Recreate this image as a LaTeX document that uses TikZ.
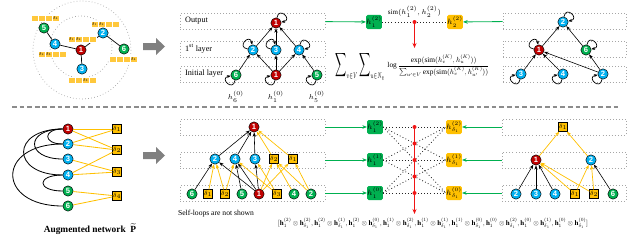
\RequirePackage{fix-cm}
\documentclass[tikz,border=0pt]{standalone}
\usepackage{amsmath,amssymb,graphicx}
\usepackage{fontspec}
\setmainfont{Liberation Serif}
\newfontfamily\numfont{Liberation Sans}
\usetikzlibrary{arrows.meta, positioning, calc, fit, backgrounds}

\definecolor{nodered}{RGB}{192,0,0}
\definecolor{nodeblue}{RGB}{0,176,240}
\definecolor{nodegreen}{RGB}{0,176,80}
\definecolor{featorange}{RGB}{255,192,0}
\definecolor{barorange}{RGB}{255,200,60}
\definecolor{linkgreen}{RGB}{0,176,80}
\definecolor{simred}{RGB}{240,20,20}

\newcommand{\fsz}[1]{\fontsize{#1}{#1}\selectfont}
\newcommand{\hpair}[2]{\mathbf{h}_1^{(#1)}\otimes\mathbf{h}_{\delta_1}^{(#2)}}
% self-loop leaving a node at angle #2, coming back at angle #3
\newcommand{\selfloop}[3]{\draw[sloop] (#1.#2) .. controls +(#2:3.6mm) and +(#3:3.6mm) .. (#1.#3);}

\tikzset{
  vtx/.style={circle, draw=black, line width=0.4pt, minimum size=0.31cm, inner sep=0pt,
    text=white, font=\numfont\bfseries\fsz{6.5}},
  v1/.style={vtx, fill=nodered},
  v2/.style={vtx, fill=nodeblue},
  v3/.style={vtx, fill=nodegreen},
  fbox/.style={rectangle, draw=black, line width=0.4pt, fill=featorange, minimum size=0.26cm,
    inner sep=0pt, font=\fsz{5}},
  layerbox/.style={draw=black!35, dotted, line width=0.6pt, inner sep=0pt},
  rowlabel/.style={anchor=west, font=\fsz{7}},
  hlab/.style={font=\fsz{6}},
  ring/.style={draw=black!35, dotted, line width=0.6pt},
  gedge/.style={line width=0.6pt},
  tarr/.style={-{Stealth[length=1.3mm,width=1mm]}, line width=0.5pt},
  farr/.style={tarr, draw=featorange, line width=0.6pt},
  fline/.style={draw=featorange, line width=0.7pt},
  arcline/.style={line width=0.7pt},
  sloop/.style={-{Stealth[length=1.1mm,width=0.9mm]}, line width=0.6pt},
  emb/.style={rounded corners=1.2pt, minimum width=0.4cm, minimum height=0.42cm, inner sep=0pt,
    font=\fsz{6.5}},
  gemb/.style={emb, fill=nodegreen},
  oemb/.style={emb, fill=featorange},
  garr/.style={-{Stealth[length=1.4mm,width=1.1mm]}, draw=linkgreen, line width=0.7pt},
  simline/.style={dotted, line width=0.7pt, draw=black!85},
  redarr/.style={-{Stealth[length=1.5mm,width=1.2mm]}, draw=simred, line width=1.1pt},
  barcell/.style={fill=barorange, draw=white, line width=0.4pt},
  barlab/.style={font=\fsz{3.5}, inner sep=0pt},
  bigarrow/.style={fill=black!50},
  sepline/.style={draw=black!45, dashed, dash pattern=on 4pt off 2.5pt, line width=1.1pt}
}

% one feature bar of four cells; labelled cells given as cell/index list
\newcommand{\featbar}[3]{%
  \foreach \k in {0,...,3}
    \draw[barcell] ({#1+\k*7},#2) rectangle ++(7,6);
  \foreach \k/\d in {#3}
    \node[barlab] at ({#1+\k*7-3.5},{#2+3}) {$\delta_{\d}$};
}

\begin{document}
\begin{tikzpicture}[x=0.03cm, y=-0.03cm]
  \useasboundingbox (0,0) rectangle (640,251);

  % --- top left: graph with its feature bars ---
  \featbar{31}{15}{4/4}
  \featbar{91}{21}{1/1, 2/2}
  \featbar{68}{36}{1/1, 2/2}
  \featbar{38}{51}{1/2, 2/3}
  \featbar{109}{56}{4/4}
  \featbar{68}{77}{3/3}
  \node[v1] (a1) at (81,50) {1};
  \node[v2] (a2) at (103,33) {2};
  \node[v2] (a3) at (82,69) {3};
  \node[v2] (a4) at (55,44) {4};
  \node[v3] (a5) at (44,28) {5};
  \node[v3] (a6) at (124,49) {6};
  \begin{scope}[on background layer]
    \draw[ring] (82,50) circle (49);
    \draw[ring] (81,47) circle (31);
    \foreach \s/\t in {a1/a2, a1/a3, a1/a4, a4/a5, a2/a6}
      \draw[gedge] (\s) -- (\t);
  \end{scope}

  % --- grey arrows ---
  \fill[bigarrow] (143,43) -- (156,43) -- (156,38) -- (165,46.5) -- (156,55) -- (156,50) -- (143,50) -- cycle;
  \fill[bigarrow] (143,152) -- (156,152) -- (156,147) -- (165,155.5) -- (156,164) -- (156,159) -- (143,159) -- cycle;

  % --- top middle: computation tree of node 1 ---
  \node[layerbox, fit={(180,13) (325,29)}] (tOut) {};
  \node[layerbox, fit={(180,41) (325,57)}] (tMid) {};
  \node[layerbox, fit={(180,66) (325,82)}] (tIni) {};
  \node[rowlabel] (tl1) at (181,21) {Output};
  \node[rowlabel] (tl2) at (181,49) {1\textsuperscript{st} layer};
  \node[rowlabel] (tl3) at (181,74) {Initial layer};

  \node[v1] (t1) at (276,23) {1};
  \node[v2] (t2) at (253,50) {2};
  \node[v2] (t3) at (276,50) {3};
  \node[v2] (t4) at (299,50) {4};
  \node[v3] (t6) at (236,75) {6};
  \node[v1] (t1b) at (276,75) {1};
  \node[v3] (t5) at (317,75) {5};
  \foreach \s/\t in {t2/t1, t3/t1, t4/t1, t6/t2, t1b/t2, t1b/t3, t1b/t4, t5/t4}
    \draw[tarr] (\s) -- (\t);
  \foreach \n in {t1, t4} {\selfloop{\n}{80}{10}}
  \foreach \n in {t2, t3} {\selfloop{\n}{170}{100}}
  \foreach \n in {t6, t1b, t5} {\selfloop{\n}{260}{190}}
  \node[hlab] (h6) at (236,97) {$h_6^{(0)}$};
  \node[hlab] (h1) at (276,97) {$h_1^{(0)}$};
  \node[hlab] (h5) at (317,97) {$h_5^{(0)}$};

  % --- top right: computation tree of node 2 ---
  \node[layerbox, fit={(503,13) (626,29)}] (rOut) {};
  \node[layerbox, fit={(503,41) (626,57)}] (rMid) {};
  \node[layerbox, fit={(503,66) (626,82)}] (rIni) {};
  \node[v2] (u2) at (563,22) {2};
  \node[v1] (u1) at (539,50) {1};
  \node[v3] (u6) at (586,50) {6};
  \node[v2] (u3b) at (521,74) {3};
  \node[v2] (u4b) at (563,74) {4};
  \node[v2] (u2b) at (603,74) {2};
  \foreach \s/\t in {u1/u2, u6/u2, u3b/u1, u4b/u1, u2b/u1, u2b/u6}
    \draw[tarr] (\s) -- (\t);
  \foreach \n in {u2, u6} {\selfloop{\n}{80}{10}}
  \selfloop{u1}{170}{100}
  \foreach \n in {u3b, u4b, u2b} {\selfloop{\n}{260}{190}}

  % --- top: similarity and objective ---
  \node[gemb] (gtop) at (374,22) {$h_1^{(2)}$};
  \node[oemb] (otop) at (455,22) {$h_2^{(2)}$};
  \draw[garr] (tOut) -- (gtop);
  \draw[garr] (rOut) -- (otop);
  \draw[simline] (gtop) -- (otop);
  \coordinate (simt) at ($(gtop)!0.5!(otop)$);
  \coordinate (simb) at (414.5,48);
  \draw[redarr] (simt) -- (simb);
  \fill[simred] (simt) circle (2);
  \node[font=\fsz{6}, above=0.3pt of simt] (simlab) {$\mathrm{sim}(h_1^{(2)},h_2^{(2)})$};
  \node[inner sep=0pt, anchor=west] (lsum) at (335,66) {\resizebox{1.5cm}{0.52cm}{$\displaystyle\sum\nolimits_{\scriptscriptstyle v\in V}\sum\nolimits_{\scriptscriptstyle u\in N_v}$}};
  \node[inner sep=0pt, right=1.5pt of lsum] (lfrac) {\resizebox{3.05cm}{!}{$\log\dfrac{\exp(\mathrm{sim}(h_v^{(K)},h_u^{(K)}))}{\sum_{u'\in V}\exp(\mathrm{sim}(h_v^{(K)},h_{u'}^{(K)}))}$}};

  % --- separator ---
  \draw[sepline] (12,107) -- (620,107);

  % --- bottom left: augmented network ---
  \foreach \i/\y/\c in {1/129/v1, 2/144/v2, 3/159/v2, 4/175/v2, 5/191/v3, 6/206/v3}
    \node[\c] (b\i) at (68,\y) {\i};
  \foreach \i/\y in {1/129, 2/150, 3/172, 4/196}
    \node[fbox] (c\i) at (117,\y) {$\delta_{\i}$};
  \foreach \s/\t/\l in {b1/b2/3.4, b1/b3/3.2, b1/b4/2.9, b4/b5/4.2, b2/b6/2.75}
    \draw[arcline] (\s) to[out=180, in=180, looseness=\l] (\t);
  \foreach \s/\t in {b1/c1, b1/c2, b2/c1, b2/c2, b3/c3, b4/c2, b4/c3, b5/c4, b6/c4}
    \draw[fline] (\s) -- (\t);
  \node[font=\bfseries\fsz{8}] (augl) at (90,229) {Augmented network~~$\widetilde{\mathbf{P}}$};

  % --- bottom middle: tree of node 1 on the augmented network ---
  \node[layerbox, fit={(180,119) (325,135)}] (mOut) {};
  \node[layerbox, fit={(180,152) (325,168)}] (mMid) {};
  \node[layerbox, fit={(180,185) (325,201)}] (mIni) {};
  \node[v1] (m1) at (254,127) {1};
  \node[v2] (m2) at (215,159) {2};
  \node[v2] (m4) at (235,159) {4};
  \node[v2] (m3) at (255,159) {3};
  \node[fbox] (md2) at (274,159) {$\delta_2$};
  \node[fbox] (md1) at (293,159) {$\delta_1$};
  \node[v3] (n6) at (192,194) {6};
  \node[fbox] (nd1) at (208,194) {$\delta_1$};
  \node[fbox] (nd2) at (225,194) {$\delta_2$};
  \node[v3] (n5) at (242,194) {5};
  \node[v1] (n1) at (259,194) {1};
  \node[fbox] (nd3) at (277,194) {$\delta_3$};
  \node[v3] (n4) at (294,194) {4};
  \node[v3] (n2) at (311,194) {2};
  \foreach \s/\t in {m2/m1, m4/m1, m3/m1, n6/m2, n1/m2, n5/m4, n1/m4, n1/m3}
    \draw[tarr] (\s) -- (\t);
  \foreach \s/\t in {md2/m1, md1/m1, nd1/m2, nd2/m2, nd2/m4, nd3/m4, nd3/m3, n1/md2, n4/md2, n2/md2, n1/md1, n2/md1}
    \draw[farr] (\s) -- (\t);
  \node[font=\fsz{6.5}] (noloop) at (216,214) {Self-loops are not shown};

  % --- bottom right: tree of feature node delta 1 ---
  \node[layerbox, fit={(502,119) (626,135)}] (sOut) {};
  \node[layerbox, fit={(502,152) (626,168)}] (sMid) {};
  \node[layerbox, fit={(502,185) (626,201)}] (sIni) {};
  \node[fbox] (sd) at (563,127) {$\delta_1$};
  \node[v1] (s1) at (536,160) {1};
  \node[v2] (s2) at (591,160) {2};
  \node[v2] (w2) at (516,194) {2};
  \node[v2] (w3) at (536,194) {3};
  \node[v2] (w4) at (555,194) {4};
  \node[fbox] (wd1) at (575,194) {$\delta_1$};
  \node[fbox] (wd2) at (594,194) {$\delta_2$};
  \node[v3] (w6) at (613,194) {6};
  \foreach \s/\t in {w2/s1, w3/s1, w4/s1, w6/s2}
    \draw[tarr] (\s) -- (\t);
  \foreach \s/\t in {s1/sd, s2/sd, wd1/s1, wd2/s1, wd1/s2, wd2/s2}
    \draw[farr] (\s) -- (\t);

  % --- bottom: layer-wise embeddings and interactions ---
  \foreach \l/\y in {2/127, 1/160, 0/193} {
    \node[gemb] (g\l) at (375,\y) {$h_1^{(\l)}$};
    \node[oemb] (o\l) at (454,\y) {$h_{\delta_1}^{(\l)}$};
  }
  \draw[garr] (mOut) -- (g2);
  \draw[garr] (mMid) -- (g1);
  \draw[garr] (mIni) -- (g0);
  \draw[garr] (sOut) -- (o2);
  \draw[garr] (sMid) -- (o1);
  \draw[garr] (sIni) -- (o0);
  \foreach \i in {0,1,2}
    \foreach \j in {0,1,2}
      \draw[simline] (g\i.east) -- (o\j.west);
  \coordinate (redtop) at (414.5,125);
  \coordinate (redbot) at (414.5,214);
  \draw[redarr] (redtop) -- (redbot);
  \foreach \y in {127, 143.5, 160, 176.5, 193}
    \fill[simred] (414.5,\y) circle (2);
  \node[inner sep=0pt] (flat) at (433,223) {\resizebox{9.3cm}{!}{$[\hpair{2}{2},\hpair{2}{1},\hpair{2}{0},\hpair{1}{2},\hpair{1}{1},\hpair{1}{0},\hpair{0}{2},\hpair{0}{1},\hpair{0}{0}]$}};
\end{tikzpicture}
\end{document}
